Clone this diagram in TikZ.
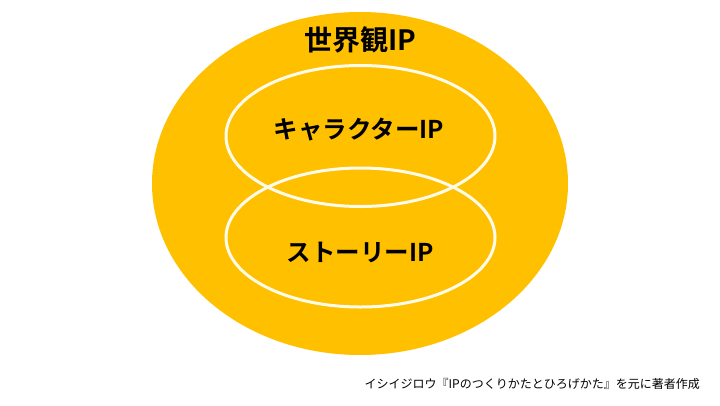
\documentclass[tikz,border=0pt]{standalone}
\usepackage{fontspec}
\newfontfamily\cjk{Noto Sans CJK JP}
\newfontfamily\cjkb{Noto Sans CJK JP Bold}
\definecolor{gold}{HTML}{FFC000}
\definecolor{ringc}{HTML}{FFFBEA}
\tikzset{
  ring/.style={draw=ringc, line width=3pt},
  title/.style={font=\cjkb\fontsize{28}{31}\selectfont, text=black, inner sep=0pt},
  lbl/.style={font=\cjkb\fontsize{24.5}{28}\selectfont, text=black, inner sep=0pt},
  note/.style={font=\cjk\fontsize{12}{14}\selectfont, text=black, inner sep=0pt, anchor=east}
}
\begin{document}
\begin{tikzpicture}[x=1pt,y=-1pt]
\useasboundingbox (0,0) rectangle (720,405);
\fill[white] (0,0) rectangle (720,405);
\fill[gold] (360,183.5) ellipse [x radius=208, y radius=171.5];
\draw[ring] (360.5,136) ellipse [x radius=134.5, y radius=70.5];
\draw[ring] (360.5,237.5) ellipse [x radius=134.5, y radius=69.5];
\node[title] (world) at (360,40) {世界観IP};
\node[lbl] (chara) at (359,130) {キャラクターIP};
\node[lbl] (story) at (360,252) {ストーリーIP};
\node[note] (src) at (700,383.5) {イシイジロウ『IPのつくりかたとひろげかた』を元に著者作成};
\end{tikzpicture}
\end{document}
